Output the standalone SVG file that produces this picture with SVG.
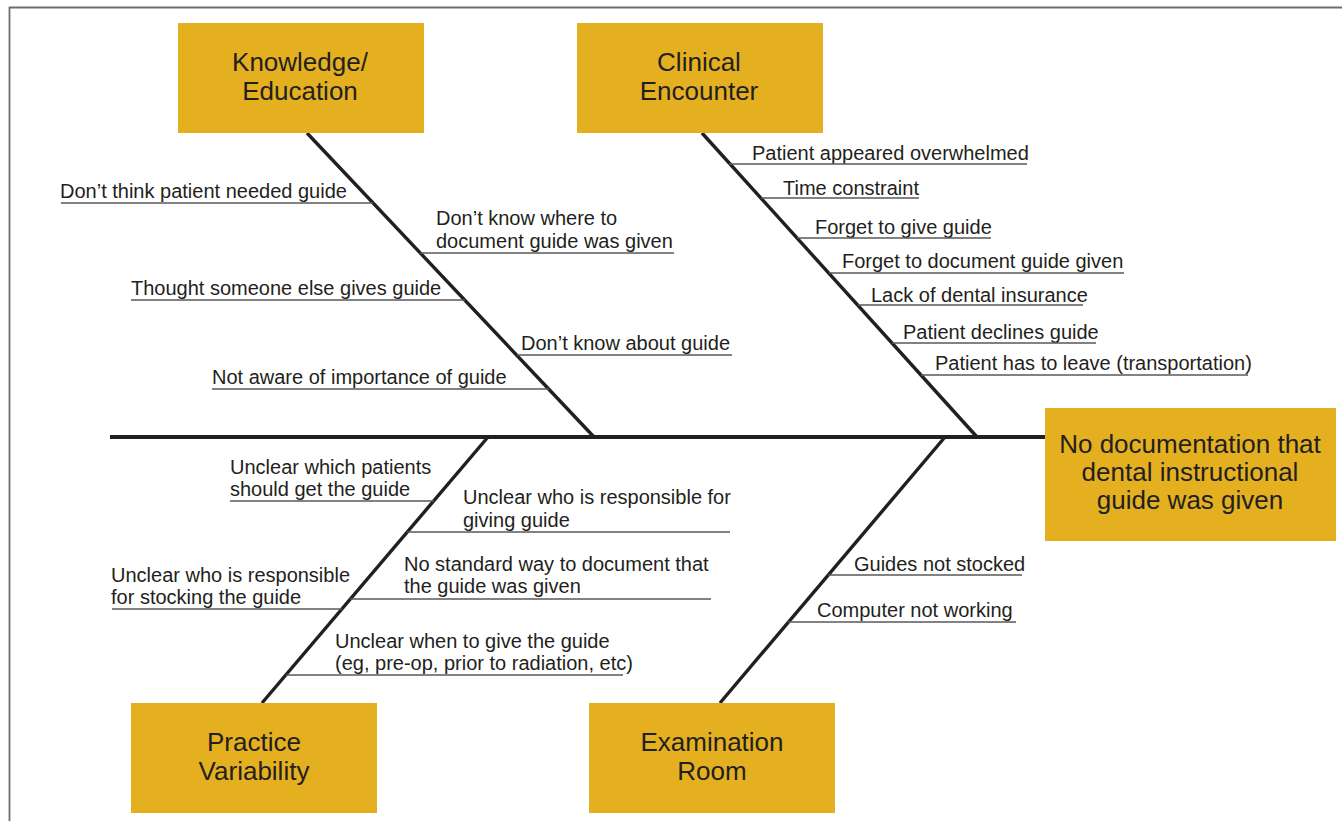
<svg xmlns="http://www.w3.org/2000/svg" width="1342" height="821" viewBox="0 0 1342 821">
<style>
.box{fill:#E4B020}
.title{font-family:"Liberation Sans",Arial,sans-serif;font-size:26px;fill:#231f20;text-anchor:middle}
.lbl{font-family:"Liberation Sans",Arial,sans-serif;font-size:20px;fill:#231f20}
.ul{stroke:#58595b;stroke-width:1.6;fill:none}
.bone{stroke:#231f20;stroke-width:3.4;fill:none}
.spine{stroke:#231f20;stroke-width:4;fill:none}
.frame{stroke:#6d6e70;stroke-width:1.8;fill:none}
</style>
<rect width="1342" height="821" fill="#ffffff"/>
<path class="frame" d="M9.5,821 V7.5 H1342"/>
<g id="connectors">
<line class="spine" x1="110" y1="437" x2="1045" y2="437"/>
<line class="bone" x1="307" y1="133" x2="594" y2="437"/>
<line class="bone" x1="702" y1="133" x2="977" y2="437"/>
<line class="bone" x1="488" y1="437" x2="262" y2="703"/>
<line class="bone" x1="945" y1="437" x2="720" y2="703"/>
</g>
<g id="knowledge-education">
<rect class="box" x="178" y="23" width="246" height="110"/>
<text class="title" x="300" y="71">Knowledge/</text>
<text class="title" x="300" y="100">Education</text>
</g>
<g id="clinical-encounter">
<rect class="box" x="577" y="23" width="246" height="110"/>
<text class="title" x="699" y="71">Clinical</text>
<text class="title" x="699" y="100">Encounter</text>
</g>
<g id="practice-variability">
<rect class="box" x="131" y="703" width="246" height="110"/>
<text class="title" x="254" y="751">Practice</text>
<text class="title" x="254" y="780">Variability</text>
</g>
<g id="examination-room">
<rect class="box" x="589" y="703" width="246" height="110"/>
<text class="title" x="712" y="751">Examination</text>
<text class="title" x="712" y="780">Room</text>
</g>
<g id="effect">
<rect class="box" x="1045" y="408" width="291" height="133"/>
<text class="title" x="1190" y="453">No documentation that</text>
<text class="title" x="1190" y="481">dental instructional</text>
<text class="title" x="1190" y="509">guide was given</text>
</g>
<g id="cause-dont-think">
<text class="lbl" x="60" y="198">Don’t think patient needed guide</text>
<line class="ul" x1="61" y1="203" x2="373" y2="203"/>
</g>
<g id="cause-thought-someone">
<text class="lbl" x="131" y="295">Thought someone else gives guide</text>
<line class="ul" x1="131" y1="300" x2="465" y2="300"/>
</g>
<g id="cause-not-aware">
<text class="lbl" x="212" y="384">Not aware of importance of guide</text>
<line class="ul" x1="212" y1="389" x2="549" y2="389"/>
</g>
<g id="cause-dont-know-where">
<text class="lbl" x="436" y="225">Don’t know where to</text>
<text class="lbl" x="436" y="248">document guide was given</text>
<line class="ul" x1="420" y1="253" x2="674" y2="253"/>
</g>
<g id="cause-dont-know-about">
<text class="lbl" x="521" y="350">Don’t know about guide</text>
<line class="ul" x1="517" y1="355" x2="732" y2="355"/>
</g>
<g id="cause-overwhelmed">
<text class="lbl" x="752" y="160">Patient appeared overwhelmed</text>
<line class="ul" x1="729" y1="164" x2="1027" y2="164"/>
</g>
<g id="cause-time">
<text class="lbl" x="783" y="195">Time constraint</text>
<line class="ul" x1="761" y1="198" x2="919" y2="198"/>
</g>
<g id="cause-forget-give">
<text class="lbl" x="815" y="234">Forget to give guide</text>
<line class="ul" x1="797" y1="238" x2="991" y2="238"/>
</g>
<g id="cause-forget-document">
<text class="lbl" x="842" y="268">Forget to document guide given</text>
<line class="ul" x1="829" y1="273" x2="1124" y2="273"/>
</g>
<g id="cause-insurance">
<text class="lbl" x="871" y="302">Lack of dental insurance</text>
<line class="ul" x1="858" y1="305" x2="1083" y2="305"/>
</g>
<g id="cause-declines">
<text class="lbl" x="903" y="339">Patient declines guide</text>
<line class="ul" x1="892" y1="343" x2="1096" y2="343"/>
</g>
<g id="cause-leave">
<text class="lbl" x="935" y="370">Patient has to leave (transportation)</text>
<line class="ul" x1="921" y1="375" x2="1248" y2="375"/>
</g>
<g id="cause-which-patients">
<text class="lbl" x="230" y="474">Unclear which patients</text>
<text class="lbl" x="230" y="496">should get the guide</text>
<line class="ul" x1="230" y1="501" x2="434" y2="501"/>
</g>
<g id="cause-stocking">
<text class="lbl" x="111" y="582">Unclear who is responsible</text>
<text class="lbl" x="111" y="604">for stocking the guide</text>
<line class="ul" x1="112" y1="609" x2="342" y2="609"/>
</g>
<g id="cause-giving">
<text class="lbl" x="463" y="504">Unclear who is responsible for</text>
<text class="lbl" x="463" y="527">giving guide</text>
<line class="ul" x1="407" y1="532" x2="730" y2="532"/>
</g>
<g id="cause-standard-way">
<text class="lbl" x="404" y="571">No standard way to document that</text>
<text class="lbl" x="404" y="593">the guide was given</text>
<line class="ul" x1="350" y1="599" x2="711" y2="599"/>
</g>
<g id="cause-when">
<text class="lbl" x="335" y="648">Unclear when to give the guide</text>
<text class="lbl" x="335" y="670">(eg, pre-op, prior to radiation, etc)</text>
<line class="ul" x1="286" y1="675" x2="623" y2="675"/>
</g>
<g id="cause-not-stocked">
<text class="lbl" x="854" y="571">Guides not stocked</text>
<line class="ul" x1="828" y1="575" x2="1022" y2="575"/>
</g>
<g id="cause-computer">
<text class="lbl" x="817" y="617">Computer not working</text>
<line class="ul" x1="788" y1="622" x2="1016" y2="622"/>
</g>
</svg>
